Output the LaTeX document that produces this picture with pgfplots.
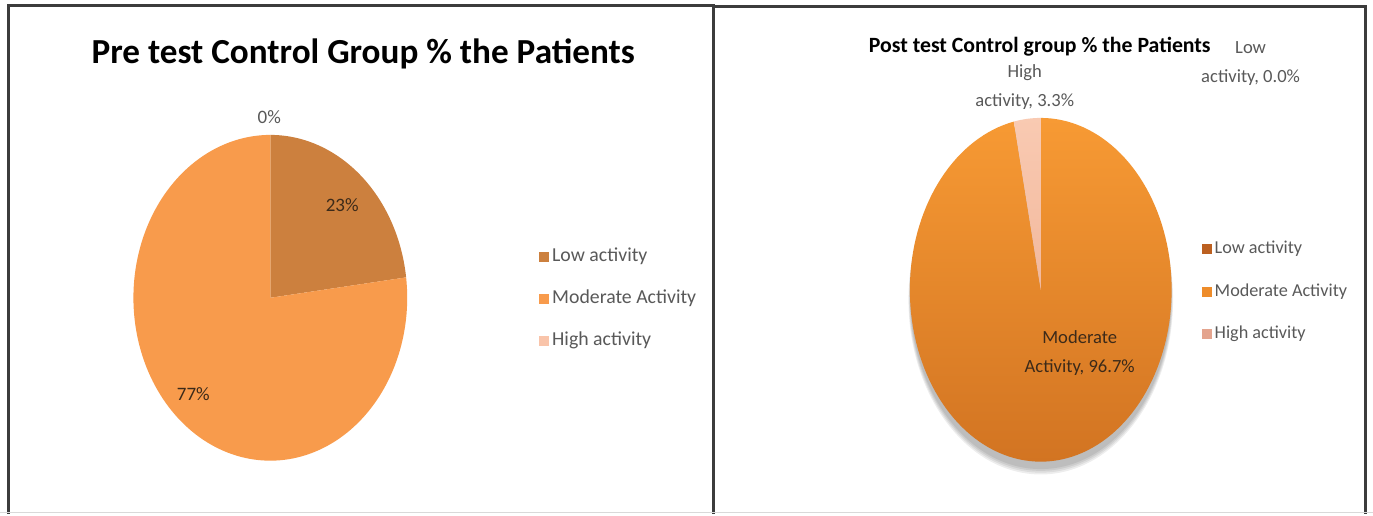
\documentclass[border=0pt]{standalone}
\usepackage{pgfplots}
\pgfplotsset{compat=1.18}
\usepackage{fontspec}
\setmainfont{Carlito}

% slice colours
\definecolor{lowA}{RGB}{204,128,62}
\definecolor{modA}{RGB}{248,155,76}
\definecolor{highA}{RGB}{249,196,170}
\definecolor{modTop}{RGB}{247,154,52}
\definecolor{modBot}{RGB}{210,116,34}
\definecolor{highTop}{RGB}{249,202,178}
\definecolor{highBot}{RGB}{242,184,156}
\definecolor{lowB}{RGB}{188,96,32}
\definecolor{modB}{RGB}{238,140,42}
\definecolor{highB}{RGB}{228,164,142}
\definecolor{txtgray}{RGB}{89,89,89}
\definecolor{txtdark}{RGB}{60,42,25}
\definecolor{frame}{RGB}{60,60,60}

% one pie slice between two cumulative percentages, clockwise from 12 o'clock
% #1,#2 centre  #3,#4 radii  #5,#6 cumulative percent  #7 fill style
\newcommand\pieslice[7]{%
  \pgfmathsetmacro\angA{90-3.6*#6}%
  \pgfmathsetmacro\angB{90-3.6*#5}%
  \edef\doslice{\noexpand\addplot[draw=none, #7, domain=\angA:\angB, samples=150]
    ({#1+#3*cos(x)},{#2-#4*sin(x)}) -- (axis cs:#1,#2) -- cycle;}%
  \doslice}

\newcommand\legsq[1]{\textcolor{#1}{\rule{5pt}{5pt}}}

\begin{document}
\begin{tikzpicture}
\begin{axis}[
  width=686.5pt, height=257pt, scale only axis,
  xmin=0, xmax=1373, ymin=0, ymax=514, y dir=reverse,
  hide axis, clip=false]

\fill[white] (axis cs:0,0) rectangle (axis cs:1373,514);

% ---------- Pre test: Low 23, Moderate 77, High 0 ----------
\pieslice{270}{298}{137}{163}{0}{23}{fill=lowA}
\pieslice{270}{298}{137}{163}{23}{100}{fill=modA}

\node[anchor=base, font=\bfseries\fontsize{17.6}{20}\selectfont] at (axis cs:363,64) {Pre test Control Group \% the Patients};
\node[anchor=base, text=txtgray, font=\fontsize{9.5}{11}\selectfont] at (axis cs:269,124) {0\%};
\node[anchor=base, text=txtdark, font=\fontsize{9.5}{11}\selectfont] at (axis cs:342,212) {23\%};
\node[anchor=base, text=txtdark, font=\fontsize{9.5}{11}\selectfont] at (axis cs:193,401) {77\%};

\node[anchor=base west, text=txtgray, font=\fontsize{9.9}{11}\selectfont] at (axis cs:532,262) {\legsq{lowA}\hspace{1.5pt}Low activity};
\node[anchor=base west, text=txtgray, font=\fontsize{9.9}{11}\selectfont] at (axis cs:532,304) {\legsq{modA}\hspace{1.5pt}Moderate Activity};
\node[anchor=base west, text=txtgray, font=\fontsize{9.9}{11}\selectfont] at (axis cs:532,346) {\legsq{highA}\hspace{1.5pt}High activity};

% ---------- Post test: Low 0, Moderate 96.7, High 3.3 ----------
% soft drop shadow under the pie
\fill[black, opacity=0.07] (axis cs:1041,297) ellipse [x radius=65.3pt, y radius=86.2pt];
\fill[black, opacity=0.07] (axis cs:1041,298) ellipse [x radius=65.6pt, y radius=86.6pt];
\fill[black, opacity=0.07] (axis cs:1041,299) ellipse [x radius=65.9pt, y radius=87.0pt];
\fill[black, opacity=0.07] (axis cs:1041,300) ellipse [x radius=66.2pt, y radius=87.4pt];
\pieslice{1041}{290}{131}{172}{0}{96.7}{top color=modTop, bottom color=modBot}
\pieslice{1041}{290}{131}{172}{96.7}{100}{top color=highTop, bottom color=highBot}

\node[anchor=base, font=\bfseries\fontsize{10.9}{13}\selectfont] at (axis cs:1040,53) {Post test Control group \% the Patients};
\node[align=center, text=txtgray, font=\fontsize{9.3}{14.5}\selectfont] at (axis cs:1251,64) {Low\\activity, 0.0\%};
\node[align=center, text=txtgray, font=\fontsize{9.3}{14.5}\selectfont] at (axis cs:1025,87) {High\\activity, 3.3\%};
\node[align=center, text=txtdark, font=\fontsize{9.3}{14.5}\selectfont] at (axis cs:1080,353) {Moderate\\Activity, 96.7\%};

\node[anchor=base west, text=txtgray, font=\fontsize{9.1}{11}\selectfont] at (axis cs:1195,254) {\legsq{lowB}\hspace{1.5pt}Low activity};
\node[anchor=base west, text=txtgray, font=\fontsize{9.1}{11}\selectfont] at (axis cs:1195,297) {\legsq{modB}\hspace{1.5pt}Moderate Activity};
\node[anchor=base west, text=txtgray, font=\fontsize{9.1}{11}\selectfont] at (axis cs:1195,339) {\legsq{highB}\hspace{1.5pt}High activity};

% panel frames
\draw[frame, line width=1.5pt] (axis cs:8,514) -- (axis cs:8,5) -- (axis cs:714,5) -- (axis cs:714,514);
\draw[frame, line width=1.5pt] (axis cs:714,6) -- (axis cs:1366,6) -- (axis cs:1366,514);
\draw[black!15, line width=0.5pt] (axis cs:0,513) -- (axis cs:1373,513);
\end{axis}
\end{tikzpicture}
\end{document}
